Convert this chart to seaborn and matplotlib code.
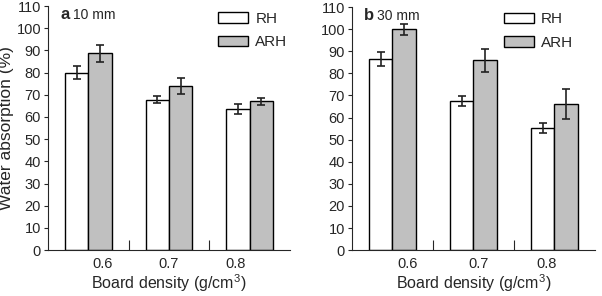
import numpy as np
import pandas as pd
import matplotlib
matplotlib.use("Agg")
import matplotlib.pyplot as plt
import seaborn as sns
from matplotlib.patches import Patch

# =========================
# Data
# =========================
densities = ["0.6", "0.7", "0.8"]
series = ["RH", "ARH"]

# panel a: 10 mm
rh_10 = [80.0, 67.8, 63.6]
rh_10_err = [3.0, 1.6, 2.4]
arh_10 = [88.7, 73.9, 67.0]
arh_10_err = [3.9, 3.6, 1.5]

# panel b: 30 mm
rh_30 = [86.4, 67.6, 55.4]
rh_30_err = [3.3, 2.3, 2.3]
arh_30 = [100.0, 85.9, 66.2]
arh_30_err = [2.5, 5.3, 6.7]

yticks = list(range(0, 111, 10))

sns.set_style("ticks")
plt.rcParams['font.family'] = ['Liberation Sans', 'DejaVu Sans']
plt.rcParams['mathtext.default'] = 'regular'

palette = {"RH": "white", "ARH": "#c0c0c0"}


def draw_panel(ax, rh, rh_err, arh, arh_err, letter, size, ylabel,
               label_pos, legend_xy):
    df = pd.DataFrame({
        "density": densities * 2,
        "series": ["RH"] * 3 + ["ARH"] * 3,
        "value": rh + arh,
    })
    sns.barplot(
        data=df, x="density", y="value", hue="series",
        order=densities, hue_order=series, palette=palette,
        width=0.58, edgecolor="black", linewidth=1.0,
        errorbar=None, legend=False, ax=ax
    )
    # error bars on top of the bars
    errs = {"RH": (rh, rh_err), "ARH": (arh, arh_err)}
    for cont, name in zip(ax.containers, series):
        vals, ee = errs[name]
        xs = [b.get_x() + b.get_width() / 2 for b in cont]
        ax.errorbar(xs, vals, yerr=ee, fmt="none", ecolor="#222222",
                    elinewidth=1.2, capsize=2.6, capthick=1.2, zorder=5)

    ax.set_xlim(-0.5, 2.5)
    ax.set_ylim(0, 110)
    ax.set_yticks(yticks)
    # the original puts the category labels a bit off the group centres
    ax.set_xticks(label_pos)
    ax.set_xticklabels(densities)
    ax.tick_params(axis="y", direction="out", length=3, width=0.8,
                   labelsize=10.5, pad=2)
    ax.tick_params(axis="x", which="major", length=0, labelsize=10.5, pad=5)
    ax.set_xticks([0.5, 1.5], minor=True)
    ax.tick_params(axis="x", which="minor", direction="in", length=7,
                   width=0.8)
    for s in ["top", "right"]:
        ax.spines[s].set_visible(False)
    for s in ["left", "bottom"]:
        ax.spines[s].set_linewidth(0.8)

    ax.set_xlabel("Board density (g/cm$^3$)", fontsize=11.5, labelpad=1)
    if ylabel:
        ax.set_ylabel("Water absorption (%)", fontsize=12.5, labelpad=2)
    else:
        ax.set_ylabel("")

    ax.text(0.05, 0.965, letter, transform=ax.transAxes, fontsize=12,
            fontweight="bold", va="center", ha="left")
    ax.text(0.105, 0.965, size, transform=ax.transAxes, fontsize=10,
            va="center", ha="left")

    handles = [Patch(facecolor=palette[n], edgecolor="black", linewidth=1.0,
                     label=n) for n in series]
    ax.legend(handles=handles, loc="upper left", frameon=False,
              fontsize=11, handlelength=2.0, handleheight=0.7,
              labelspacing=0.6, handletextpad=0.45, borderpad=0,
              borderaxespad=0, bbox_to_anchor=legend_xy)


fig = plt.figure(figsize=(6.02, 2.96), dpi=100)
ax1 = fig.add_axes([0.0797, 0.155, 0.402, 0.8247])
ax2 = fig.add_axes([0.5847, 0.155, 0.4033, 0.8213])

draw_panel(ax1, rh_10, rh_10_err, arh_10, arh_10_err, "a", "10 mm", True,
           [0.18, 1.0, 1.83], (0.702, 0.975))
draw_panel(ax2, rh_30, rh_30_err, arh_30, arh_30_err, "b", "30 mm", False,
           [0.19, 1.06, 1.9], (0.625, 0.978))

fig.savefig("out.png", dpi=100)
